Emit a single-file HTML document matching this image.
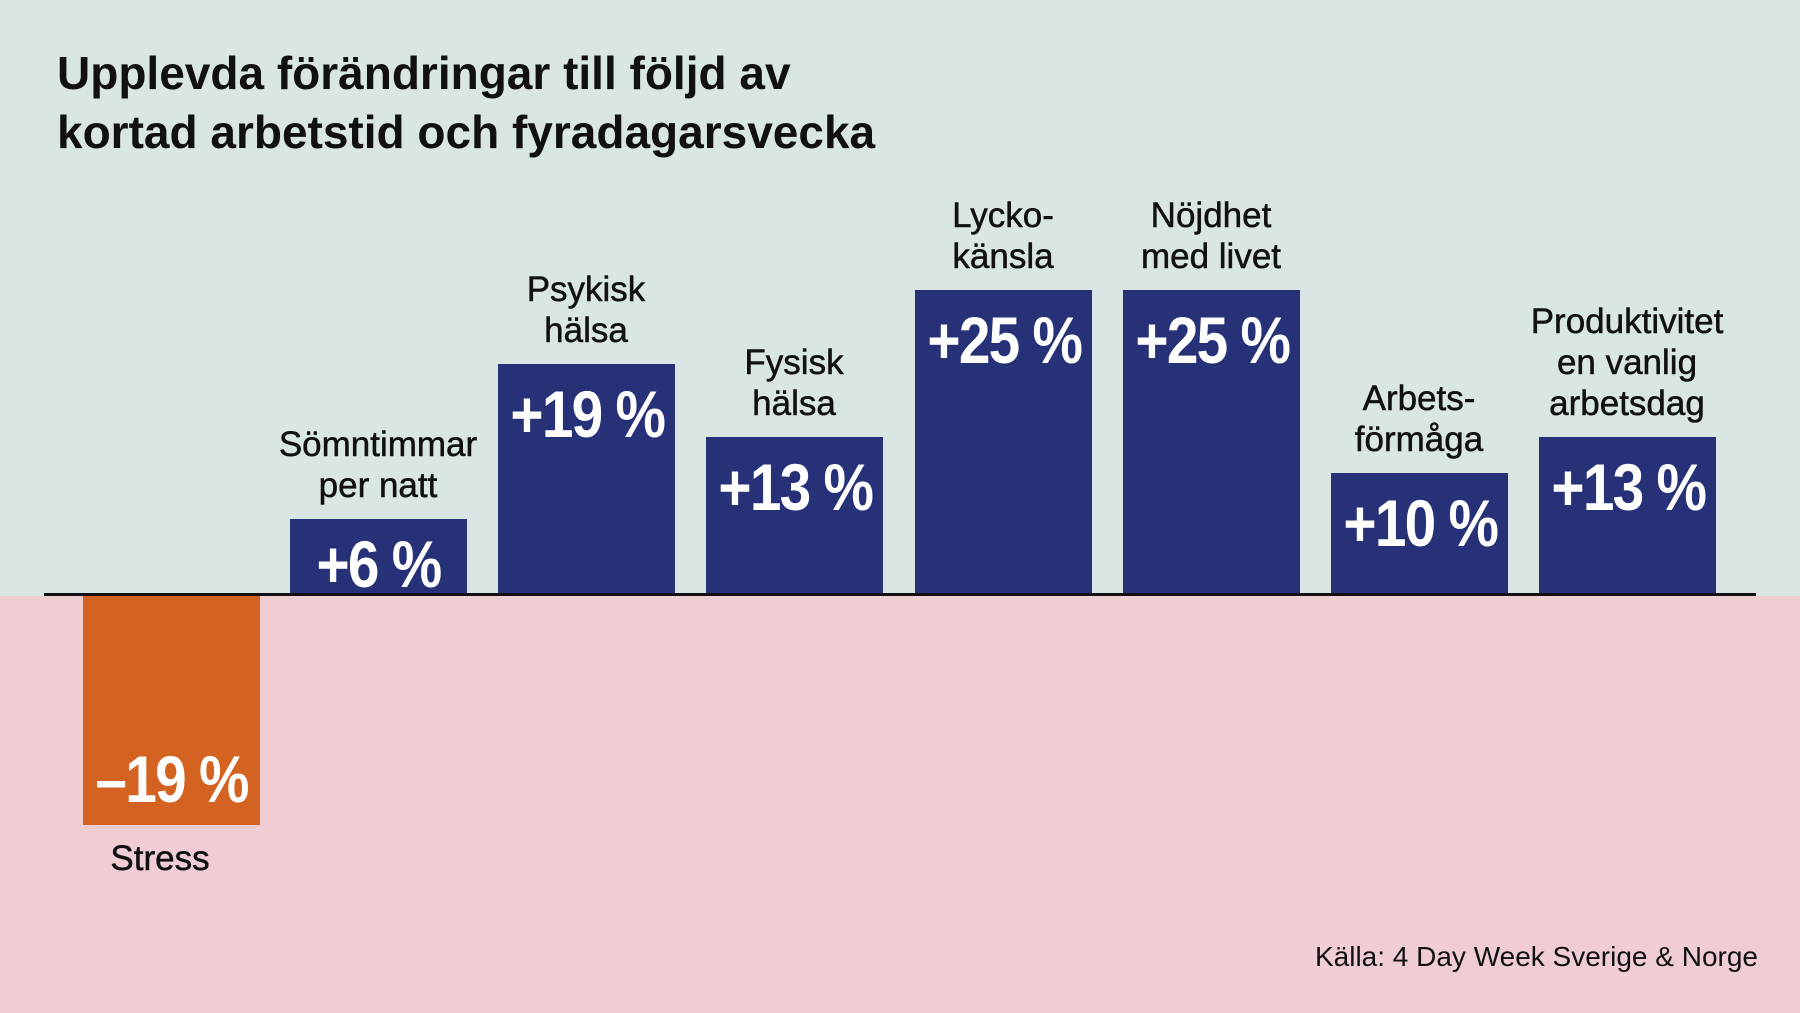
<!DOCTYPE html>
<html><head><meta charset="utf-8">
<style>
body{margin:0;width:1800px;height:1013px;overflow:hidden;position:relative;font-family:"Liberation Sans",sans-serif;}
.top{position:absolute;left:0;top:0;width:1800px;height:596px;background:#dae6e3;}
.bot{position:absolute;left:0;top:596px;width:1800px;height:417px;background:#f0cdd3;}
.axis{position:absolute;left:44px;top:593px;width:1712px;height:3px;background:#111;}
.bar{position:absolute;background:#263178;}
.val{position:absolute;width:100%;left:0;text-align:center;color:#fff;font-weight:bold;font-size:66px;line-height:66px;letter-spacing:-2px;white-space:nowrap;transform:scaleX(0.86);}
.lab{position:absolute;text-align:center;font-size:35px;line-height:41px;color:#111;width:260px;white-space:nowrap;-webkit-text-stroke:0.5px #111;}
h1{position:absolute;left:57px;top:44px;margin:0;font-size:46px;line-height:59px;font-weight:bold;color:#111;}
.src{position:absolute;right:42px;top:941px;font-size:28px;color:#111;}
</style></head><body>
<div class="top"></div><div class="bot"></div>
<h1>Upplevda förändringar till följd av<br>kortad arbetstid och fyradagarsvecka</h1>

<div class="bar" style="left:83px;top:596px;width:177px;height:229px;background:#d46221"><div class="val" style="top:150px">–19 %</div></div>
<div class="lab" style="left:30px;top:838px">Stress</div>

<div class="bar" style="left:290px;top:519px;width:177px;height:76px"><div class="val" style="top:12px">+6 %</div></div>
<div class="lab" style="left:248px;top:424px">Sömntimmar<br>per natt</div>

<div class="bar" style="left:498px;top:364px;width:177px;height:231px"><div class="val" style="top:17px">+19 %</div></div>
<div class="lab" style="left:456px;top:269px">Psykisk<br>hälsa</div>

<div class="bar" style="left:706px;top:437px;width:177px;height:158px"><div class="val" style="top:17px">+13 %</div></div>
<div class="lab" style="left:664px;top:342px">Fysisk<br>hälsa</div>

<div class="bar" style="left:915px;top:290px;width:177px;height:305px"><div class="val" style="top:17px">+25 %</div></div>
<div class="lab" style="left:873px;top:195px">Lycko-<br>känsla</div>

<div class="bar" style="left:1123px;top:290px;width:177px;height:305px"><div class="val" style="top:17px">+25 %</div></div>
<div class="lab" style="left:1081px;top:195px">Nöjdhet<br>med livet</div>

<div class="bar" style="left:1331px;top:473px;width:177px;height:122px"><div class="val" style="top:17px">+10 %</div></div>
<div class="lab" style="left:1289px;top:378px">Arbets-<br>förmåga</div>

<div class="bar" style="left:1539px;top:437px;width:177px;height:158px"><div class="val" style="top:17px">+13 %</div></div>
<div class="lab" style="left:1497px;top:301px">Produktivitet<br>en vanlig<br>arbetsdag</div>

<div class="axis"></div>
<div class="src">Källa: 4 Day Week Sverige &amp; Norge</div>
</body></html>
